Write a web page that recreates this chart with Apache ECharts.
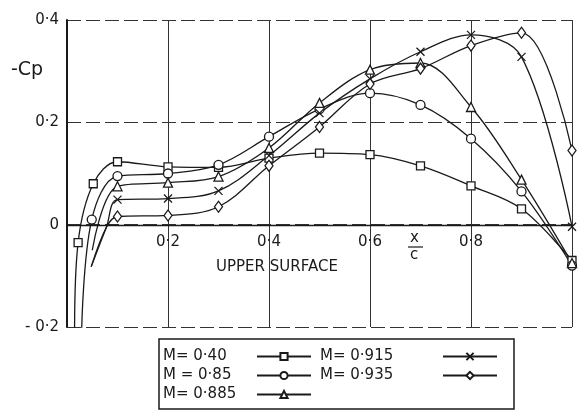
<!DOCTYPE html>
<html>
<head>
<meta charset="utf-8">
<script src="https://cdn.jsdelivr.net/npm/echarts@6/dist/echarts.min.js"></script>
<style>html,body{margin:0;padding:0;background:#fff}#c{width:579px;height:410px}</style>
</head>
<body>
<div id="c"></div>
<script>
// chordwise stations x/c
var stations = [0.1, 0.2, 0.3, 0.4, 0.5, 0.6, 0.7, 0.8, 0.9, 1.0];
// -Cp values at the stations
var cp040  = [0.123, 0.113, 0.112, 0.130, 0.140, 0.137, 0.115, 0.076, 0.031, -0.070];
var cp085  = [0.095, 0.100, 0.117, 0.172, 0.226, 0.257, 0.234, 0.168, 0.065, -0.080];
var cp0885 = [0.075, 0.082, 0.094, 0.150, 0.238, 0.303, 0.316, 0.230, 0.088, -0.075];
var cp0915 = [0.049, 0.051, 0.066, 0.135, 0.218, 0.285, 0.338, 0.371, 0.328, -0.004];
var cp0935 = [0.016, 0.018, 0.035, 0.115, 0.191, 0.275, 0.305, 0.350, 0.375, 0.145];
// extra measured points near the leading edge (with markers)
var le040  = [[0.022, -0.035], [0.052, 0.080]];
var le085  = [[0.049, 0.010]];
// faired curve ends near the leading edge (no markers)
var tail040  = [[0.015, -0.21]];
var tail085  = [[0.029, -0.21]];
var tail0885 = [[0.050, -0.050]];
var tail0915 = [[0.048, -0.082], [0.078, -0.005]];
var tail0935 = [[0.048, -0.082], [0.078, -0.005]];
var names = ['M= 0·40', 'M = 0·85', 'M= 0·885', 'M= 0·915', 'M= 0·935'];
var yTicks = {'-0.2': '- 0·2', '0': '0', '0.2': '0·2', '0.4': '0·4'};
var xTicks = {'0.2': '0·2', '0.4': '0·4', '0.6': '0·6', '0.8': '0·8'};

function build(tail, le, ys) {
  var d = [];
  tail.forEach(function (p) { d.push({value: p, symbol: 'none'}); });
  le.forEach(function (p) { d.push({value: p}); });
  stations.forEach(function (x, i) { d.push({value: [x, ys[i]]}); });
  return d;
}
var FONT = 'DejaVu Sans';
var INK = '#1a1a1a';
var xPath = 'path://M0,0L10,10M10,0L0,10';
var sym = ['rect', 'circle', 'triangle', xPath, 'diamond'];
var sizes = [8, 9, 9, 8, [8, 11]];
var datas = [
  build(tail040, le040, cp040),
  build(tail085, le085, cp085),
  build(tail0885, [], cp0885),
  build(tail0915, [], cp0915),
  build(tail0935, [], cp0935)
];
var series = datas.map(function (d, i) {
  return {
    name: names[i], type: 'line', data: d, smooth: 0.35,
    symbol: sym[i], symbolSize: sizes[i], showAllSymbol: true,
    lineStyle: {color: INK, width: 1.3},
    itemStyle: {color: '#fff', borderColor: INK, borderWidth: 1.3},
    emphasis: {disabled: true}, animation: false, z: 3
  };
});
function legendText(w) {
  return {
    fontSize: 15, color: INK, fontFamily: FONT,
    rich: {a: {width: w, align: 'left', fontSize: 15, color: INK, fontFamily: FONT}}
  };
}
var chart = echarts.init(document.getElementById('c'));
chart.setOption({
  backgroundColor: '#fff',
  animation: false,
  textStyle: {fontFamily: FONT, color: INK},
  grid: {left: 67, right: 7, top: 20, bottom: 83},
  xAxis: {
    type: 'value', min: 0, max: 1, interval: 0.2, offset: -102,
    axisLine: {show: true, onZero: false, lineStyle: {color: INK, width: 1.3}},
    axisTick: {show: false},
    axisLabel: {margin: 10, fontSize: 15, color: INK, fontFamily: FONT,
      formatter: function (v) { return xTicks[String(+v.toFixed(1))] || ''; }},
    splitLine: {show: true, lineStyle: {color: '#333', width: 1}}
  },
  yAxis: {
    type: 'value', min: -0.2, max: 0.4, interval: 0.2,
    axisLine: {show: true, onZero: false, lineStyle: {color: INK, width: 2}},
    axisTick: {show: false},
    axisLabel: {margin: 8, fontSize: 15, color: INK, fontFamily: FONT,
      formatter: function (v) { return yTicks[String(+v.toFixed(1))] || ''; }},
    splitLine: {show: true, lineStyle: {color: '#333', width: 1, type: [14, 5]}}
  },
  legend: [
    {
      data: names.slice(0, 3), orient: 'vertical', left: 159, top: 339,
      align: 'right', itemWidth: 54, itemHeight: 9, itemGap: 4,
      padding: [10, 202, 7, 4], borderColor: INK, borderWidth: 1.5, backgroundColor: '#fff',
      formatter: function (n) { return '{a|' + n + '}'; },
      textStyle: legendText(89), selectedMode: false
    },
    {
      data: names.slice(3), orient: 'vertical', left: 316, top: 339,
      align: 'right', itemWidth: 54, itemHeight: 9, itemGap: 4,
      padding: [10, 4, 7, 4],
      formatter: function (n) { return '{a|' + n + '}'; },
      textStyle: legendText(118), selectedMode: false
    }
  ],
  graphic: [
    {type: 'text', left: 11, top: 61, style: {text: '-Cp', fontSize: 19, fill: INK, fontFamily: FONT}},
    {type: 'text', left: 216, top: 260, style: {text: 'UPPER SURFACE', fontSize: 15, fill: INK, fontFamily: FONT}},
    {type: 'text', left: 410, top: 231, style: {text: 'x', fontSize: 15, fill: INK, fontFamily: FONT}},
    {type: 'line', shape: {x1: 408, y1: 247, x2: 423, y2: 247}, style: {stroke: INK, lineWidth: 1.2}},
    {type: 'text', left: 410, top: 248, style: {text: 'c', fontSize: 15, fill: INK, fontFamily: FONT}}
  ],
  series: series
});
</script>
</body>
</html>
